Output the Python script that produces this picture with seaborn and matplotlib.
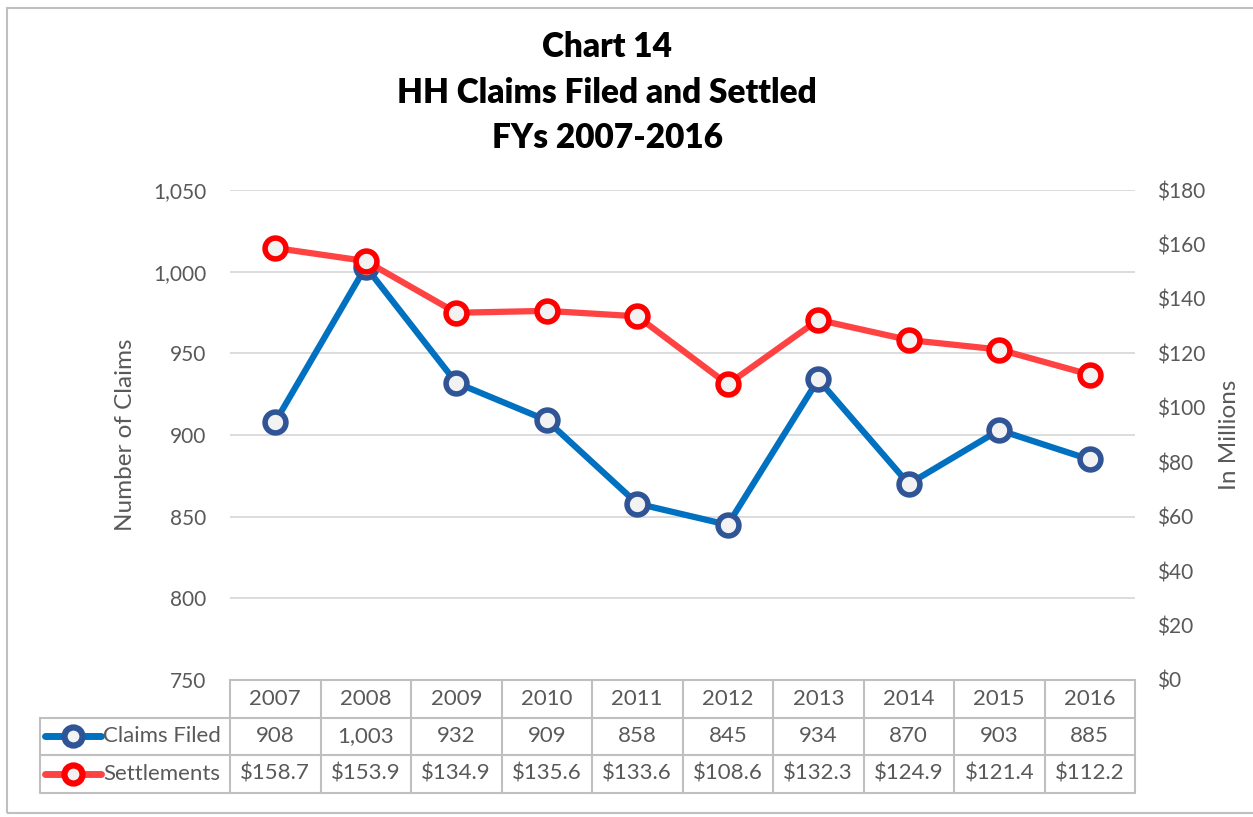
import matplotlib
matplotlib.use("Agg")
import matplotlib.pyplot as plt
import matplotlib.transforms as mtransforms
from matplotlib.patches import Rectangle
from matplotlib.lines import Line2D
import seaborn as sns
import pandas as pd

# data
years = ["2007", "2008", "2009", "2010", "2011", "2012", "2013", "2014", "2015", "2016"]
claims = [908, 1003, 932, 909, 858, 845, 934, 870, 903, 885]
settlements = [158.7, 153.9, 134.9, 135.6, 133.6, 108.6, 132.3, 124.9, 121.4, 112.2]
claims_labels = ["908", "1,003", "932", "909", "858", "845", "934", "870", "903", "885"]
settle_labels = ["$158.7", "$153.9", "$134.9", "$135.6", "$133.6",
                 "$108.6", "$132.3", "$124.9", "$121.4", "$112.2"]

df = pd.DataFrame({"pos": range(len(years)), "year": years,
                   "claims": claims, "settlements": settlements})

sns.set_style("white")
plt.rcParams["font.family"] = ["Lato", "DejaVu Sans"]

BLUE = "#0070C0"
BLUE_EDGE = "#2F5597"
RED = "#FF4343"
RED_EDGE = "#FF0000"
FILL = "#F2F2F2"
GRAY = "#595959"
GRID = "#D9D9D9"
TBL = "#BFBFBF"

fig = plt.figure(figsize=(12.53, 8.17), dpi=100)
ax = fig.add_axes([230 / 1253, 1 - 680 / 817, 905 / 1253, 490 / 817])
ax2 = ax.twinx()

sns.lineplot(data=df, x="pos", y="claims", ax=ax, color=BLUE, lw=4.5,
             marker="o", markersize=15, markerfacecolor=FILL,
             markeredgecolor=BLUE_EDGE, markeredgewidth=4)
sns.lineplot(data=df, x="pos", y="settlements", ax=ax2, color=RED, lw=4.5,
             marker="o", markersize=15, markerfacecolor=FILL,
             markeredgecolor=RED_EDGE, markeredgewidth=4)

ax.set_xlim(-0.5, len(years) - 0.5)
ax.set_ylim(750, 1050)
ax2.set_ylim(0, 180)
ax.set_yticks(range(750, 1051, 50))
ax.set_yticklabels([f"{v:,}" for v in range(750, 1051, 50)])
ax2.set_yticks(range(0, 181, 20))
ax2.set_yticklabels([f"${v}" for v in range(0, 181, 20)])
ax.set_xticks([])
ax.set_xlabel("")
ax2.set_xlabel("")

for a in (ax, ax2):
    for s in a.spines.values():
        s.set_visible(False)
    a.tick_params(axis="y", length=0, labelsize=15, labelcolor=GRAY)
ax.tick_params(axis="y", pad=17)
ax2.tick_params(axis="y", pad=16)
ax.yaxis.grid(True, color=GRID, lw=1.3)
ax.set_axisbelow(True)

ax.set_ylabel("Number of Claims", fontsize=17.5, color=GRAY, labelpad=12)
ax2.set_ylabel("In Millions", fontsize=17.5, color=GRAY, labelpad=10)

# data table below the axes
tr = mtransforms.blended_transform_factory(ax.transData, ax.transAxes)
h = 37.5 / 490
x0 = -2.6
xr = len(years) - 0.5
lkw = dict(color=TBL, lw=1.5, transform=tr, clip_on=False)
ax.add_line(Line2D([-0.5, xr], [0, 0], **lkw))
for k in (1, 2, 3):
    ax.add_line(Line2D([x0, xr], [-k * h, -k * h], **lkw))
for i in range(len(years) + 1):
    ax.add_line(Line2D([i - 0.5, i - 0.5], [0, -3 * h], **lkw))
ax.add_line(Line2D([x0, x0], [-h, -3 * h], **lkw))

tkw = dict(transform=tr, ha="center", va="center", fontsize=16, color=GRAY, clip_on=False)
for i, (yr, c, s) in enumerate(zip(years, claims_labels, settle_labels)):
    ax.text(i, -0.5 * h, yr, **tkw)
    ax.text(i, -1.5 * h, c, **tkw)
    ax.text(i, -2.5 * h, s, **tkw)

for k, (name, col, edge) in enumerate([("Claims Filed", BLUE, BLUE_EDGE),
                                        ("Settlements", RED, RED_EDGE)]):
    yy = -(1.5 + k) * h
    ax.add_line(Line2D([-2.54, -1.93], [yy, yy], color=col, lw=5,
                       solid_capstyle="round", transform=tr, clip_on=False))
    ax.add_line(Line2D([-2.24], [yy], marker="o", markersize=13, markerfacecolor=FILL,
                       markeredgecolor=edge, markeredgewidth=4.5, transform=tr, clip_on=False))
    ax.text(-1.9, yy, name, transform=tr, ha="left", va="center", fontsize=16,
            color=GRAY, clip_on=False)

# titles
for txt, yp in [("Chart 14", 47), ("HH Claims Filed and Settled", 93), ("FYs 2007-2016", 138)]:
    fig.text(607 / 1253, 1 - yp / 817, txt, ha="center", va="center",
             fontsize=24, fontweight="heavy", color="black")

# chart border
fig.patches.append(Rectangle((7 / 1253, 4 / 817), 1.1, 1 - 12 / 817,
                             transform=fig.transFigure, fill=False,
                             edgecolor=TBL, lw=1.5))

fig.savefig("out.png", dpi=100)
